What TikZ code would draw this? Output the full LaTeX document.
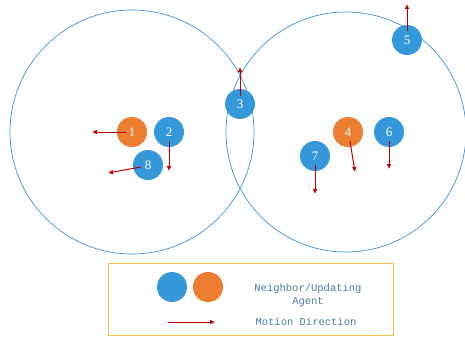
\documentclass[tikz,border=0pt]{standalone}
\usepackage{fontspec}
\setmainfont{Liberation Serif}
\newfontfamily\legendfont{Liberation Mono}
\usetikzlibrary{arrows.meta}
\definecolor{agentblue}{RGB}{52,152,219}
\definecolor{agentorange}{RGB}{237,125,49}
\definecolor{rangeblue}{RGB}{58,148,212}
\definecolor{motionred}{RGB}{192,0,0}
\definecolor{legendframe}{RGB}{247,190,80}
\definecolor{legendtext}{RGB}{74,124,168}
\tikzset{
  agent/.style={circle, minimum size=30pt, inner sep=0pt, text=white, font=\fontsize{13}{14}\selectfont},
  neighbor/.style={agent, fill=agentblue},
  updating/.style={agent, fill=agentorange},
  commrange/.style={draw=rangeblue, line width=0.7pt},
  motion/.style={draw=motionred, line width=1pt, -{Latex[length=5pt,width=5pt]}},
  legendlabel/.style={text=legendtext, font=\legendfont\fontsize{10.5}{13}\selectfont, align=center}
}
\begin{document}
\begin{tikzpicture}[x=1pt,y=-1pt]
\useasboundingbox (0,0) rectangle (465,337);
% communication ranges
\draw[commrange] (132,132) circle (122);
\draw[commrange] (346,132) circle (120);
% agents
\node[updating] (a1) at (132,132) {1};
\node[neighbor] (a2) at (169,132) {2};
\node[neighbor] (a8) at (148,165) {8};
\node[neighbor] (a3) at (240,104) {3};
\node[neighbor] (a5) at (407,40) {5};
\node[updating] (a4) at (348,132) {4};
\node[neighbor] (a6) at (389,132) {6};
\node[neighbor] (a7) at (315,156) {7};
% motion targets
\coordinate (m1) at (92,132);
\coordinate (m2) at (169,171);
\coordinate (m8) at (108,173);
\coordinate (m3) at (240,67);
\coordinate (m5) at (407,4);
\coordinate (m4) at (355,172);
\coordinate (m6) at (389,169);
\coordinate (m7) at (315,194);
% motion directions, starting just clear of each label (shifts are in page units: up is positive)
\draw[motion] ([xshift=-6]a1.center) -- (m1);
\draw[motion] ([yshift=-9]a2.center) -- (m2);
\draw[motion] ([xshift=-7,yshift=-2]a8.center) -- (m8);
\draw[motion] ([yshift=8]a3.center) -- (m3);
\draw[motion] ([yshift=9]a5.center) -- (m5);
\draw[motion] ([xshift=2,yshift=-9]a4.center) -- (m4);
\draw[motion] ([yshift=-9]a6.center) -- (m6);
\draw[motion] ([yshift=-9]a7.center) -- (m7);
% legend
\node[draw=legendframe, line width=0.8pt, minimum width=285pt, minimum height=72pt, inner sep=0pt] (legend) at (250.5,299) {};
\node[neighbor] (lb) at (172,287) {};
\node[updating] (lo) at (208,287) {};
\node[legendlabel] (lt1) at (308,295) {Neighbor/Updating\\Agent};
\coordinate (ls) at (168,322);
\coordinate (le) at (215,322);
\draw[motion] (ls) -- (le);
\node[legendlabel] (lt2) at (306,322) {Motion Direction};
\end{tikzpicture}
\end{document}
